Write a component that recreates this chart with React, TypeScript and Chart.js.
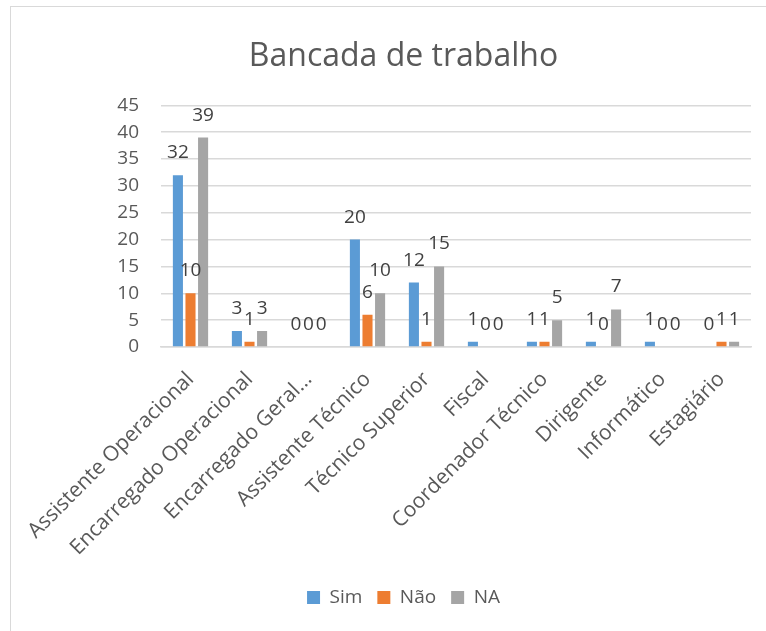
import React, { useEffect, useRef } from "react";
import { Chart, registerables } from "chart.js";

Chart.register(...registerables);

const categories = [
  "Assistente Operacional",
  "Encarregado Operacional",
  "Encarregado Geral…",
  "Assistente Técnico",
  "Técnico Superior",
  "Fiscal",
  "Coordenador Técnico",
  "Dirigente",
  "Informático",
  "Estagiário",
];
const seriesNames = ["Sim", "Não", "NA"];
const simValues = [32, 3, 0, 20, 12, 1, 1, 1, 1, 0];
const naoValues = [10, 1, 0, 6, 1, 0, 1, 0, 0, 1];
const naValues = [39, 3, 0, 10, 15, 0, 5, 7, 0, 1];
const yMin = 0;
const yMax = 45;
const yStep = 5;
const titleText = "Bancada de trabalho";

const colors = ["#5B9BD5", "#ED7D31", "#A5A5A5"];
const FONT = "'Open Sans', 'DejaVu Sans', sans-serif";

const dataLabelPlugin = {
  id: "dataLabels",
  afterDatasetsDraw(chart: any) {
    const ctx = chart.ctx;
    ctx.save();
    ctx.font = `19px ${FONT}`;
    ctx.fillStyle = "#404040";
    ctx.textAlign = "center";
    ctx.textBaseline = "alphabetic";
    chart.data.datasets.forEach((ds: any, i: number) => {
      const meta = chart.getDatasetMeta(i);
      meta.data.forEach((bar: any, j: number) => {
        ctx.fillText(String(ds.data[j]), bar.x, bar.y - 17);
      });
    });
    ctx.restore();
  },
};

export default function App() {
  const ref = useRef<HTMLCanvasElement | null>(null);
  useEffect(() => {
    if (!ref.current) return;
    const chart = new Chart(ref.current, {
      type: "bar",
      data: {
        labels: categories,
        datasets: [simValues, naoValues, naValues].map((d, i) => ({
          label: seriesNames[i],
          data: d,
          backgroundColor: colors[i],
          borderWidth: 0,
          categoryPercentage: 0.64,
          barPercentage: 0.8,
        })),
      },
      options: {
        responsive: false,
        animation: false,
        layout: { padding: { left: 56, right: 15, top: 0, bottom: 14 } },
        plugins: {
          title: {
            display: true,
            text: titleText,
            color: "#595959",
            font: { family: FONT, size: 32, weight: "normal" },
            padding: { top: 38, bottom: 29 },
          },
          legend: {
            position: "bottom",
            labels: {
              color: "#595959",
              font: { family: FONT, size: 19 },
              boxWidth: 13,
              boxHeight: 13,
              padding: 15,
            },
          },
          tooltip: { enabled: false },
        },
        scales: {
          x: {
            grid: { display: false },
            border: { display: true, color: "#D9D9D9", width: 1.5 },
            ticks: {
              color: "#595959",
              font: { family: FONT, size: 21 },
              autoSkip: false,
              maxRotation: 45,
              minRotation: 45,
              padding: 12,
            },
            afterFit(scale: any) {
              scale.height = 226;
              scale.paddingLeft = 0;
              scale.paddingRight = 0;
            },
          },
          y: {
            min: yMin,
            max: yMax,
            grid: { color: "#D9D9D9", lineWidth: 1.5, drawTicks: false },
            border: { display: false },
            ticks: {
              stepSize: yStep,
              color: "#595959",
              font: { family: FONT, size: 19 },
              padding: 22,
            },
            afterFit(scale: any) {
              scale.width = 105;
            },
          },
        },
      },
      plugins: [dataLabelPlugin],
    });
    return () => chart.destroy();
  }, []);
  return (
    <div style={{ position: "fixed", left: 0, top: 0, width: 766, height: 631, background: "#fff" }}>
      <div
        style={{
          position: "absolute",
          left: 10,
          top: 6,
          right: -10,
          bottom: -10,
          borderTop: "1.5px solid #D9D9D9",
          borderLeft: "1.5px solid #D9D9D9",
        }}
      />
      <canvas ref={ref} width={766} height={631} style={{ position: "absolute", left: 0, top: 0 }} />
    </div>
  );
}
